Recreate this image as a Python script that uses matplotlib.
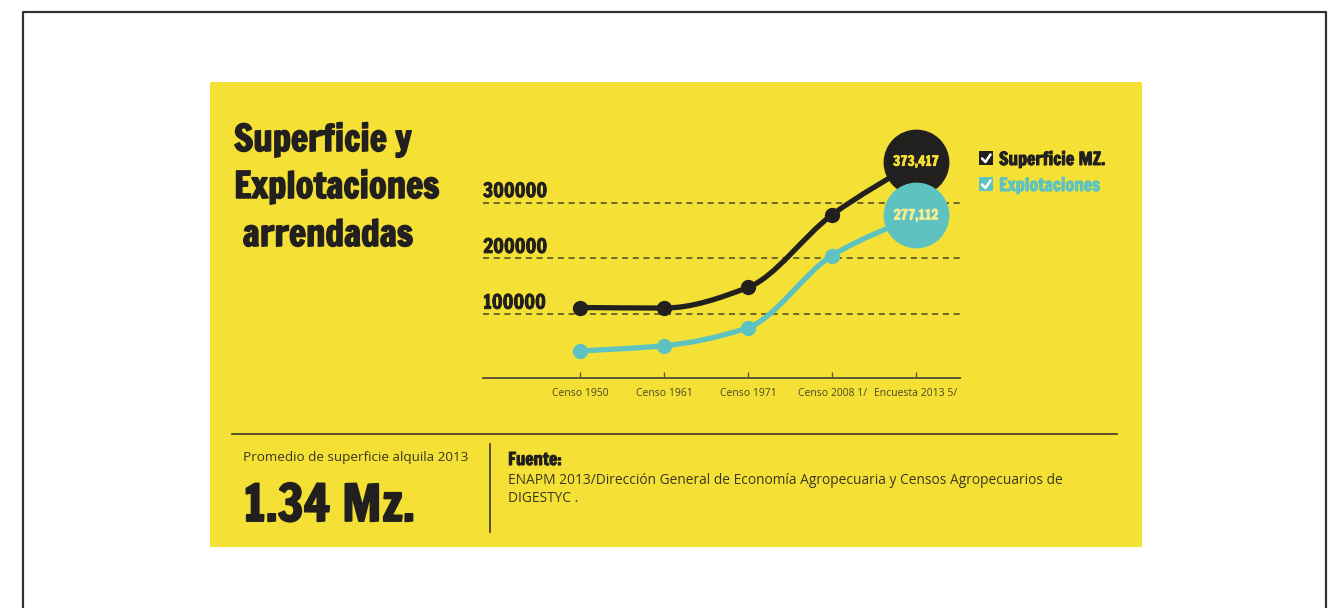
import numpy as np
import matplotlib
matplotlib.use('Agg')
import matplotlib.pyplot as plt
from matplotlib.path import Path
from matplotlib.patches import PathPatch, Rectangle
import matplotlib.patheffects as pe
import matplotlib.transforms as mtransforms


# ── Data ─────────────────────────────────────────────────────────────────────
categories    = ['Censo 1950', 'Censo 1961', 'Censo 1971', 'Censo 2008 1/', 'Encuesta 2013 5/']
superficie    = [112000, 111000, 148000, 278000, 373417]   # manzanas
explotaciones = [34000, 43500, 76000, 205000, 277112]
grid_values   = [100000, 200000, 300000]
grid_labels   = ['100000', '200000', '300000']
end_labels    = ['373,417', '277,112']
title_lines   = ['Superficie y', 'Explotaciones', ' arrendadas']

# ── Style ────────────────────────────────────────────────────────────────────
W, H     = 1332, 608
YELLOW   = '#F5E135'
BLACK    = '#221F1F'
CYAN     = '#5EC3C0'
OLIVE    = '#4A4628'
HEAVY    = ['Francois One', 'Anton', 'DejaVu Sans']
LIGHT    = ['Open Sans', 'DejaVu Sans']


def heavy(color, w=0.9):
    # thicken the condensed face a little
    return [pe.withStroke(linewidth=w, foreground=color)]


def px_rect(left, top, right, bottom):
    """Figure-fraction rect from pixel edges (origin top-left)."""
    return [left / W, 1 - bottom / H, (right - left) / W, (bottom - top) / H]


def smooth_path(xs, ys):
    """Monotone cubic Bezier through the points (Fritsch-Carlson tangents)."""
    xs = np.asarray(xs, float)
    ys = np.asarray(ys, float)
    h = np.diff(xs)
    d = np.diff(ys) / h
    m = np.empty_like(ys)
    m[0], m[-1] = d[0], d[-1]
    for i in range(1, len(ys) - 1):
        m[i] = 0.0 if d[i - 1] * d[i] <= 0 else 2 / (1 / d[i - 1] + 1 / d[i])
    verts = [(xs[0], ys[0])]
    codes = [Path.MOVETO]
    for i in range(len(xs) - 1):
        verts += [(xs[i] + h[i] / 3, ys[i] + m[i] * h[i] / 3),
                  (xs[i + 1] - h[i] / 3, ys[i + 1] - m[i + 1] * h[i] / 3),
                  (xs[i + 1], ys[i + 1])]
        codes += [Path.CURVE4] * 3
    return Path(verts, codes)


fig = plt.figure(figsize=(W / 100, H / 100), dpi=100, facecolor='white')

# Background layer in pixel coordinates: frame, yellow card, separators
bg = fig.add_axes([0, 0, 1, 1], zorder=0)
bg.set_xlim(0, W)
bg.set_ylim(H, 0)
bg.axis('off')
bg.plot([23, 23, 1326, 1326], [H, 12, 12, H], color='#333333', lw=1.6)
bg.add_patch(Rectangle((210, 82), 932, 465, color=YELLOW, lw=0))
bg.plot([232, 1117], [434, 434], color='#3a3722', lw=1.2)
bg.plot([490, 490], [444, 532], color='#3a3722', lw=1.2)

for line, base in zip(title_lines, [151, 198, 246]):
    bg.text(234, base, line, fontsize=26, family=HEAVY, color=BLACK,
            va='baseline', path_effects=heavy(BLACK, 1.1))

bg.text(243, 457, 'Promedio de superficie alquila 2013', fontsize=9.7,
        family=LIGHT, color='#3a3722', va='center')
bg.text(243, 521, '1.34 Mz.', fontsize=36, family=HEAVY, color=BLACK,
        va='baseline', path_effects=heavy(BLACK, 1.4))
bg.text(508, 465, 'Fuente:', fontsize=12.5, family=HEAVY, color=BLACK,
        va='baseline', path_effects=heavy(BLACK, 0.7))
bg.text(508, 480, 'ENAPM 2013/Dirección General de Economía Agropecuaria y Censos Agropecuarios de',
        fontsize=9.9, family=LIGHT, color='#3a3722', va='center')
bg.text(508, 498, 'DIGESTYC .', fontsize=9.9, family=LIGHT, color='#3a3722', va='center')

# Legend with check boxes
for (top, color, name) in [(151, BLACK, 'Superficie MZ.'), (177, CYAN, 'Explotaciones')]:
    bg.add_patch(Rectangle((979, top), 14, 14, color=color, lw=0))
    bg.plot([982, 985.5, 990.5], [top + 7.5, top + 11, top + 3.5],
            color='white', lw=1.8, solid_capstyle='round', solid_joinstyle='round')
    bg.text(999, top + 14, name, fontsize=12.8, family=HEAVY, color=color,
            va='baseline', path_effects=heavy(color, 0.7))

# ── Chart ────────────────────────────────────────────────────────────────────
x = np.arange(len(categories))
ax = fig.add_axes(px_rect(483, 130, 960, 378), zorder=1)
ax.patch.set_alpha(0)
ax.set_xlim((483 - 580) / 84, (960 - 580) / 84)
ax.set_ylim(-(378 - 370) / 55.8 * 1e5, (370 - 130) / 55.8 * 1e5)

for s in ['top', 'right', 'left']:
    ax.spines[s].set_visible(False)
ax.spines['bottom'].set_color('#5a5630')
ax.spines['bottom'].set_linewidth(1.4)
ax.set_yticks([])
ax.set_xticks(x)
ax.set_xticklabels(categories, family=LIGHT, fontsize=7.5, color=OLIVE)
ax.tick_params(axis='x', direction='in', length=4, width=1, color='#5a5630', pad=7)

# Dashed reference lines with their labels sitting on top
lbl_tf = mtransforms.blended_transform_factory(ax.transAxes, ax.transData)
for v, lbl in zip(grid_values, grid_labels):
    ax.axhline(v, color=OLIVE, ls=(0, (4, 3)), lw=1.1, zorder=1)
    ax.text(0.0, v + 9900, lbl, transform=lbl_tf, fontsize=14, family=HEAVY,
            color=BLACK, va='baseline', ha='left', path_effects=heavy(BLACK, 0.7))

for series, color in [(superficie, BLACK), (explotaciones, CYAN)]:
    ax.add_patch(PathPatch(smooth_path(x, series), fill=False, edgecolor=color,
                           lw=3.8, capstyle='round', zorder=3))
    ax.plot(x[:-1], series[:-1], 'o', color=color, ms=10, zorder=4)

# Big end circles carrying the latest values
for series, color, txt, tcol in [(superficie, BLACK, end_labels[0], YELLOW),
                                 (explotaciones, CYAN, end_labels[1], '#F8EE90')]:
    ax.scatter([x[-1]], [series[-1]], s=2150, color=color, zorder=5, clip_on=False)
    ax.text(x[-1], series[-1], txt, ha='center', va='center', fontsize=10,
            family=HEAVY, color=tcol, zorder=6, path_effects=heavy(tcol, 0.5))

fig.savefig('out.png', dpi=100, facecolor='white')
